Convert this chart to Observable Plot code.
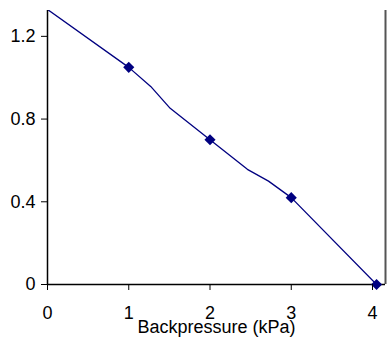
<!DOCTYPE html>
<html>
<head>
<meta charset="utf-8">
<script src="https://cdn.jsdelivr.net/npm/d3@7"></script>
<script src="https://cdn.jsdelivr.net/npm/@observablehq/plot@0.6"></script>
<style>
  html, body { margin: 0; padding: 0; background: #fff; }
  #chart svg { display: block; }
</style>
</head>
<body>
<div id="chart"></div>
<script>
// Measured points (markers)
const markerX = [1, 2, 3, 4.05];
const markerY = [1.05, 0.70, 0.42, 0];
// Smoothed curve through the points
const curveX = [0, 1, 1.27, 1.51, 2, 2.46, 2.72, 3, 4.05];
const curveY = [1.33, 1.05, 0.958, 0.852, 0.70, 0.557, 0.50, 0.42, 0];
// Tick labels
const xTicks = [0, 1, 2, 3, 4];
const yTicks = [0, 0.4, 0.8, 1.2];
const xLabel = "Backpressure (kPa)";

const markers = markerX.map((x, i) => ({x, y: markerY[i]}));
const curve = curveX.map((x, i) => ({x, y: curveY[i]}));

const chart = Plot.plot({
  width: 387,
  height: 340,
  marginTop: 10,
  marginLeft: 47,
  marginRight: 2,
  marginBottom: 56,
  style: {fontFamily: "'Liberation Sans', Arial, sans-serif", fontSize: "18px", color: "#000", background: "#fff"},
  x: {domain: [0, 4.16]},
  y: {domain: [0, 1.325]},
  marks: [
    Plot.line(curve, {x: "x", y: "y", stroke: "#000080", strokeWidth: 1.3, clip: true}),
    Plot.ruleX([4.16], {stroke: "#555", strokeWidth: 2}),
    Plot.ruleY([0], {stroke: "#000", strokeWidth: 1.5}),
    Plot.ruleX([0], {stroke: "#000", strokeWidth: 1.5}),
    Plot.dot(markers, {x: "x", y: "y", symbol: "diamond2", r: 5, fill: "#000080", stroke: "none"}),
    Plot.axisY(yTicks, {tickSize: 6, tickPadding: 6, tickFormat: d => String(d), fontSize: 18, label: null, stroke: "#000"}),
    Plot.axisX(xTicks, {tickSize: 6, tickPadding: 16, tickFormat: d => String(d), fontSize: 18, label: null, stroke: "#000"}),
    Plot.text([xLabel], {frameAnchor: "bottom", dy: 48, fontSize: 18, fill: "#000"})
  ]
});
document.getElementById("chart").appendChild(chart);
</script>
</body>
</html>
